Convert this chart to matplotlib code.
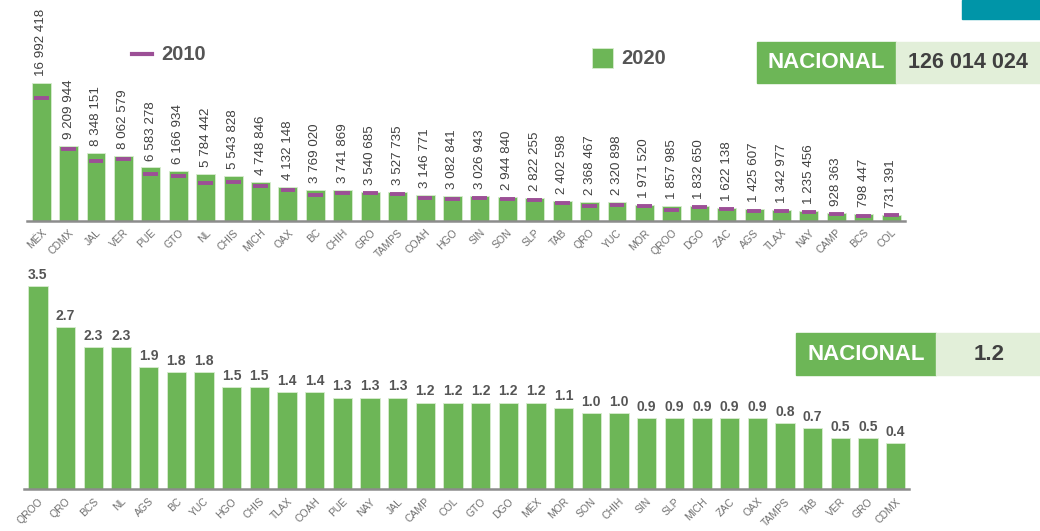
import matplotlib
matplotlib.use('agg')
import matplotlib.pyplot as plt
from matplotlib.patches import Rectangle
from matplotlib.lines import Line2D
import numpy as np

plt.rcParams['font.family'] = ['Liberation Sans', 'DejaVu Sans']

# Población total por entidad (2020 barras, 2010 marcas)
estados_pob = ['MÉX', 'CDMX', 'JAL', 'VER', 'PUE', 'GTO', 'NL', 'CHIS', 'MICH', 'OAX',
               'BC', 'CHIH', 'GRO', 'TAMPS', 'COAH', 'HGO', 'SIN', 'SON', 'SLP', 'TAB',
               'QRO', 'YUC', 'MOR', 'QROO', 'DGO', 'ZAC', 'AGS', 'TLAX', 'NAY', 'CAMP',
               'BCS', 'COL']
pob_2020 = [16992418, 9209944, 8348151, 8062579, 6583278, 6166934, 5784442, 5543828,
            4748846, 4132148, 3769020, 3741869, 3540685, 3527735, 3146771, 3082841,
            3026943, 2944840, 2822255, 2402598, 2368467, 2320898, 1971520, 1857985,
            1832650, 1622138, 1425607, 1342977, 1235456, 928363, 798447, 731391]
pob_2010 = [15175862, 8851080, 7350682, 7643194, 5779829, 5486372, 4653458, 4796580,
            4351037, 3801962, 3155070, 3406465, 3388768, 3268554, 2748391, 2665018,
            2767761, 2662480, 2585518, 2238603, 1827937, 1955577, 1777227, 1325578,
            1632934, 1490668, 1184996, 1169936, 1084979, 822441, 637026, 650555]
nacional_pob = '126 014 024'

# Tasa de crecimiento media anual 2010-2020
estados_tasa = ['QROO', 'QRO', 'BCS', 'NL', 'AGS', 'BC', 'YUC', 'HGO', 'CHIS', 'TLAX',
                'COAH', 'PUE', 'NAY', 'JAL', 'CAMP', 'COL', 'GTO', 'DGO', 'MÉX', 'MOR',
                'SON', 'CHIH', 'SIN', 'SLP', 'MICH', 'ZAC', 'OAX', 'TAMPS', 'TAB', 'VER',
                'GRO', 'CDMX']
tasa = [3.5, 2.7, 2.3, 2.3, 1.9, 1.8, 1.8, 1.5, 1.5, 1.4, 1.4, 1.3, 1.3, 1.3, 1.2, 1.2,
        1.2, 1.2, 1.2, 1.1, 1.0, 1.0, 0.9, 0.9, 0.9, 0.9, 0.9, 0.8, 0.7, 0.5, 0.5, 0.4]
nacional_tasa = '1.2'

verde = '#6db657'
verde_claro = '#e2efd9'
morado = '#9c4f96'
gris_txt = '#404040'
gris_eje = '#8c8c8c'

fig = plt.figure(figsize=(10.4, 5.31), dpi=100)


def estilo_eje(ax, etiquetas):
    for s in ['top', 'right', 'left']:
        ax.spines[s].set_visible(False)
    ax.spines['bottom'].set_color(gris_eje)
    ax.spines['bottom'].set_linewidth(1.8)
    ax.set_yticks([])
    ax.set_xticks(np.arange(len(etiquetas)))
    ax.set_xticklabels(etiquetas, rotation=45, ha='right', va='top',
                       rotation_mode='anchor', fontsize=7.5, color='#707070')
    ax.tick_params(axis='x', length=0, pad=5)
    ax.set_xlim(-0.5, len(etiquetas) - 0.5)


# --- Gráfica superior ---
ax1 = fig.add_axes([0.0264, 0.5844, 0.8437, 0.4156])
x1 = np.arange(len(estados_pob))
ax1.bar(x1, pob_2020, width=0.69, color=verde, edgecolor='#d8ecd0', linewidth=0.6)
ax1.hlines(pob_2010, x1 - 0.27, x1 + 0.27, color=morado, linewidth=2.8)
for xi, v in zip(x1, pob_2020):
    ax1.annotate(f'{v:,}'.replace(',', ' '), (xi, v), xytext=(0, 5),
                 textcoords='offset points', rotation=90, ha='center', va='bottom',
                 fontsize=9.6, color=gris_txt)
ax1.set_ylim(0, 27.3e6)
estilo_eje(ax1, estados_pob)

# --- Gráfica inferior ---
ax2 = fig.add_axes([0.0231, 0.0785, 0.8514, 0.4318])
x2 = np.arange(len(estados_tasa))
ax2.bar(x2, np.array(tasa) + 0.516, bottom=-0.516, width=0.7, color=verde,
        edgecolor='#d8ecd0', linewidth=0.6)
for xi, v in zip(x2, tasa):
    ax2.annotate(f'{v:.1f}', (xi, v), xytext=(0, 3), textcoords='offset points',
                 ha='center', va='bottom', fontsize=10, fontweight='bold',
                 color='#555555')
ax2.set_ylim(-0.516, 4.02)
estilo_eje(ax2, estados_tasa)

# --- Leyendas ---
W, H = 1040, 531


def fx(px):
    return px / W


def fy(py):
    return 1 - py / H


fig.add_artist(Line2D([fx(132), fx(152)], [fy(54), fy(54)], color=morado, lw=3))
fig.text(fx(161), fy(54), '2010', fontsize=14.5, fontweight='bold', color='#555555',
         va='center', ha='left')
fig.add_artist(Rectangle((fx(592), fy(68)), fx(21), 20 / H, color=verde,
                         ec='#d8ecd0', lw=0.6))
fig.text(fx(621), fy(58), '2020', fontsize=14.5, fontweight='bold', color='#555555',
         va='center', ha='left')

# --- Recuadros NACIONAL ---
fig.add_artist(Rectangle((fx(962), fy(19)), fx(78), 19 / H, color='#0095a8'))

fig.add_artist(Rectangle((fx(757), fy(83)), fx(139), 40.5 / H, color=verde))
fig.add_artist(Rectangle((fx(896), fy(83)), fx(144), 40.5 / H, color=verde_claro))
fig.text(fx(826), fy(63), 'NACIONAL', fontsize=16, fontweight='bold', color='white',
         va='center', ha='center')
fig.text(fx(968), fy(63), nacional_pob, fontsize=15.5, fontweight='bold', color=gris_txt,
         va='center', ha='center')

fig.add_artist(Rectangle((fx(796), fy(375)), fx(140), 42 / H, color=verde))
fig.add_artist(Rectangle((fx(936), fy(375)), fx(104), 42 / H, color=verde_claro))
fig.text(fx(866), fy(354), 'NACIONAL', fontsize=16, fontweight='bold', color='white',
         va='center', ha='center')
fig.text(fx(989), fy(354), nacional_tasa, fontsize=16, fontweight='bold', color=gris_txt,
         va='center', ha='center')

fig.savefig('out.png', dpi=100)
